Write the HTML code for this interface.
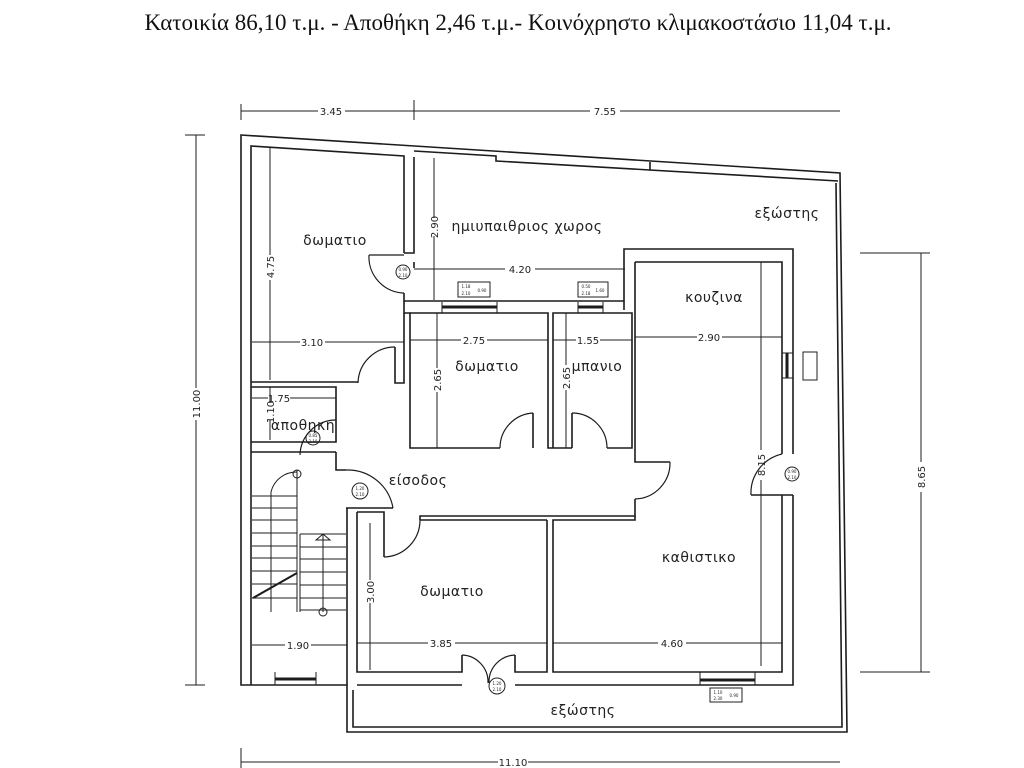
<!DOCTYPE html>
<html><head><meta charset="utf-8"><style>
html,body{margin:0;padding:0;background:#fff;}
svg{display:block}
text{font-family:"DejaVu Sans","Liberation Sans",sans-serif;fill:#222}
.t{font-size:14px;letter-spacing:0.5px}
.d{font-size:10px}
.s{font-size:4px}
</style></head><body>
<svg width="1024" height="768" viewBox="0 0 1024 768" xmlns="http://www.w3.org/2000/svg">
<rect width="1024" height="768" fill="#fff"/>
<text x="518" y="30" text-anchor="middle" style="font-family:'Liberation Serif',serif;font-size:23px;fill:#111">Κατοικία 86,10 τ.μ. - Αποθήκη  2,46 τ.μ.- Κοινόχρηστο κλιμακοστάσιο 11,04 τ.μ.</text>
<g fill="none" stroke="#1c1c1c" stroke-width="1.6">
<path d="M241,135 L840,173 L847,732 L347,732 L347,685 L241,685 Z"/>
<path d="M353,690 L353,727 L842,727 L836,183"/>
<path d="M414,151 L496,156 L496,161 L650,170"/>
<path d="M650,162 L650,170 L838,181"/>
<path d="M251,685 L251,146 L404,156 L404,253"/>
<path d="M414,157 L414,253 L404,253"/>
<path d="M404,293 L404,301 L414,301 L624,301 L624,249 L793,249 L793,454"/>
<path d="M414,262 L414,268"/>
<path d="M251,382 L358,382 M251,387 L336,387 L336,442 L251,442 M251,452 L336,452"/>
<path d="M395,347 L395,383 L404,383 L404,313"/>
<path d="M404,301 L404,313 L410,313 L410,448 L500,448 M533,448 L533,413"/>
<path d="M410,313 L548,313 L548,448 L553,448 L553,313 L632,313 L632,448 L607,448 M572,448 L572,413 M553,448 L572,448"/>
<path d="M635,262 L782,262 L782,454 M635,262 L635,462 L670,462 M635,499 L635,516 L420,516 L420,520 M624,301 L624,310"/>
<path d="M782,495 L782,672 L553,672 L553,520 L635,520 L635,516"/>
<path d="M793,495 L793,685 L515,685 M462,685 L357,685"/>
<path d="M751,495 L793,495"/>
<path d="M336,452 L336,470 L346,470 M347,508 L347,685 M357,512 L357,672 L462,672 L462,655 M515,655 L515,672 L547,672 L547,520 M357,512 L384,512 L384,557"/>
<path d="M346,508 L393,508"/>
<path d="M420,520 L547,520"/>
<path d="M369,255 L404,255 M369,255 A36,36 0 0 0 404,293" stroke-width="1.2"/>
<path d="M395,347 A37,37 0 0 0 358,383" stroke-width="1.2"/>
<path d="M533,413 A35,35 0 0 0 500,448" stroke-width="1.2"/>
<path d="M572,413 A35,35 0 0 1 607,448" stroke-width="1.2"/>
<path d="M670,462 A36,36 0 0 1 635,499" stroke-width="1.2"/>
<path d="M751,495 A40,40 0 0 1 782,454" stroke-width="1.2"/>
<path d="M393,508 A46,46 0 0 0 346,470" stroke-width="1.2"/>
<path d="M384,557 A37,37 0 0 0 420,520" stroke-width="1.2"/>
<path d="M300,455 A36,36 0 0 1 336,420" stroke-width="1.2"/>
<path d="M462,655 A27,27 0 0 1 488,683 M515,655 A27,27 0 0 0 489,683" stroke-width="1.2"/>
<path d="M252,496 L297,496 M252,508 L297,508 M252,520 L297,520 M252,533 L297,533 M252,546 L297,546 M252,558 L297,558 M252,571 L297,571 M252,584 L297,584 M252,598 L297,598" stroke-width="1"/>
<path d="M300,534 L346,534 M300,547 L346,547 M300,559 L346,559 M300,572 L346,572 M300,585 L346,585 M300,598 L346,598 M300,610 L346,610" stroke-width="1"/>
<path d="M297,470 L297,612 M300,534 L300,612" stroke-width="1"/>
<path d="M253,598 L297,573" stroke-width="2"/>
<path d="M271,612 L271,492 A26,26 0 0 1 297,472 M323,612 L323,534" stroke-width="1"/>
<circle cx="297" cy="474" r="4" stroke-width="1"/><circle cx="323" cy="612" r="4" stroke-width="1"/>
<path d="M316,540 L323,534 L330,540 Z" stroke-width="1"/>
<path d="M442,307 L497,307 M578,307 L603,307 M275,679 L316,679 M700,680 L755,680 M787,353 L787,378" stroke-width="3"/>
<path d="M442,302 L442,313 M497,302 L497,313 M578,302 L578,313 M603,302 L603,313 M275,672 L275,685 M316,672 L316,685 M700,672 L700,685 M755,672 L755,685 M782,353 L793,353 M782,378 L793,378" stroke-width="1"/>
</g>
<g fill="none" stroke="#222" stroke-width="1">
<rect x="458" y="282" width="32" height="15"/><rect x="578" y="282" width="30" height="15"/>
<rect x="710" y="688" width="32" height="14"/><rect x="803" y="352" width="14" height="28"/>
<circle cx="403" cy="272" r="7"/><circle cx="313" cy="438" r="7"/><circle cx="360" cy="491" r="8"/><circle cx="497" cy="686" r="8"/><circle cx="792" cy="474" r="7"/>
</g>
<g class="s" text-anchor="middle">
<text x="466" y="288">1.18</text><text x="466" y="295">2.10</text><text x="482" y="292">0.90</text>
<text x="586" y="288">0.50</text><text x="586" y="295">2.18</text><text x="600" y="292">1.60</text>
<text x="718" y="694">1.10</text><text x="718" y="700">2.30</text><text x="734" y="697">0.90</text>
<text x="403" y="271">0.90</text><text x="403" y="277">2.10</text>
<text x="313" y="437">0.85</text><text x="313" y="443">2.10</text>
<text x="360" y="490">1.20</text><text x="360" y="496">2.10</text>
<text x="497" y="685">1.20</text><text x="497" y="691">2.10</text>
<text x="792" y="473">0.90</text><text x="792" y="479">2.10</text>
</g>
<g stroke="#1c1c1c" stroke-width="1" fill="none">
<path d="M241,104 L241,120 M414,100 L414,120 M241,111 L318,111 M345,111 L414,111 M414,111 L590,111 M620,111 L840,111"/>
<path d="M185,135 L205,135 M185,685 L205,685 M196,135 L196,388 M196,420 L196,685"/>
<path d="M860,253 L930,253 M860,672 L930,672 M921,253 L921,462 M921,492 L921,672"/>
<path d="M241,748 L241,768 M241,762 L498,762 M528,762 L840,762"/>
<path d="M270,148 L270,255 M270,280 L270,380 M434,158 L434,218 M434,236 L434,300 M414,269 L505,269 M535,269 L625,269"/>
<path d="M252,342 L300,342 M325,342 L404,342 M410,340 L461,340 M487,340 L548,340 M553,340 L576,340 M600,340 L632,340 M635,337 L697,337 M722,337 L782,337"/>
<path d="M437,313 L437,368 M437,392 L437,448 M566,313 L566,365 M566,390 L566,448 M761,262 L761,450 M761,480 L761,666"/>
<path d="M252,398 L268,398 M290,398 L336,398 M270,387 L270,403 M270,420 L270,440"/>
<path d="M252,645 L285,645 M311,645 L347,645 M357,643 L428,643 M455,643 L547,643 M553,643 L658,643 M686,643 L782,643 M370,523 L370,580 M370,603 L370,670"/>
</g>
<g class="d" text-anchor="middle">
<text x="331" y="115">3.45</text><text x="605" y="115">7.55</text><text x="513" y="766">11.10</text>
<text x="200" y="404" transform="rotate(-90 200 404)">11.00</text>
<text x="925" y="477" transform="rotate(-90 925 477)">8.65</text>
<text x="274" y="267" transform="rotate(-90 274 267)">4.75</text>
<text x="438" y="227" transform="rotate(-90 438 227)">2.90</text>
<text x="441" y="380" transform="rotate(-90 441 380)">2.65</text>
<text x="570" y="378" transform="rotate(-90 570 378)">2.65</text>
<text x="765" y="465" transform="rotate(-90 765 465)">8.15</text>
<text x="374" y="592" transform="rotate(-90 374 592)">3.00</text>
<text x="274" y="412" transform="rotate(-90 274 412)">1.10</text>
<text x="520" y="273">4.20</text><text x="312" y="346">3.10</text><text x="474" y="344">2.75</text>
<text x="588" y="344">1.55</text><text x="709" y="341">2.90</text><text x="279" y="402">1.75</text>
<text x="298" y="649">1.90</text><text x="441" y="647">3.85</text><text x="672" y="647">4.60</text>
</g>
<g class="t" text-anchor="middle">
<text x="335" y="245">δωματιο</text>
<text x="527" y="231">ημιυπαιθριος  χωρος</text>
<text x="787" y="218">εξώστης</text>
<text x="714" y="302">κουζινα</text>
<text x="487" y="371">δωματιο</text>
<text x="597" y="371">μπανιο</text>
<text x="303" y="430">αποθηκη</text>
<text x="418" y="485">είσοδος</text>
<text x="452" y="596">δωματιο</text>
<text x="699" y="562">καθιστικο</text>
<text x="583" y="715">εξώστης</text>
</g>
</svg>
</body></html>
